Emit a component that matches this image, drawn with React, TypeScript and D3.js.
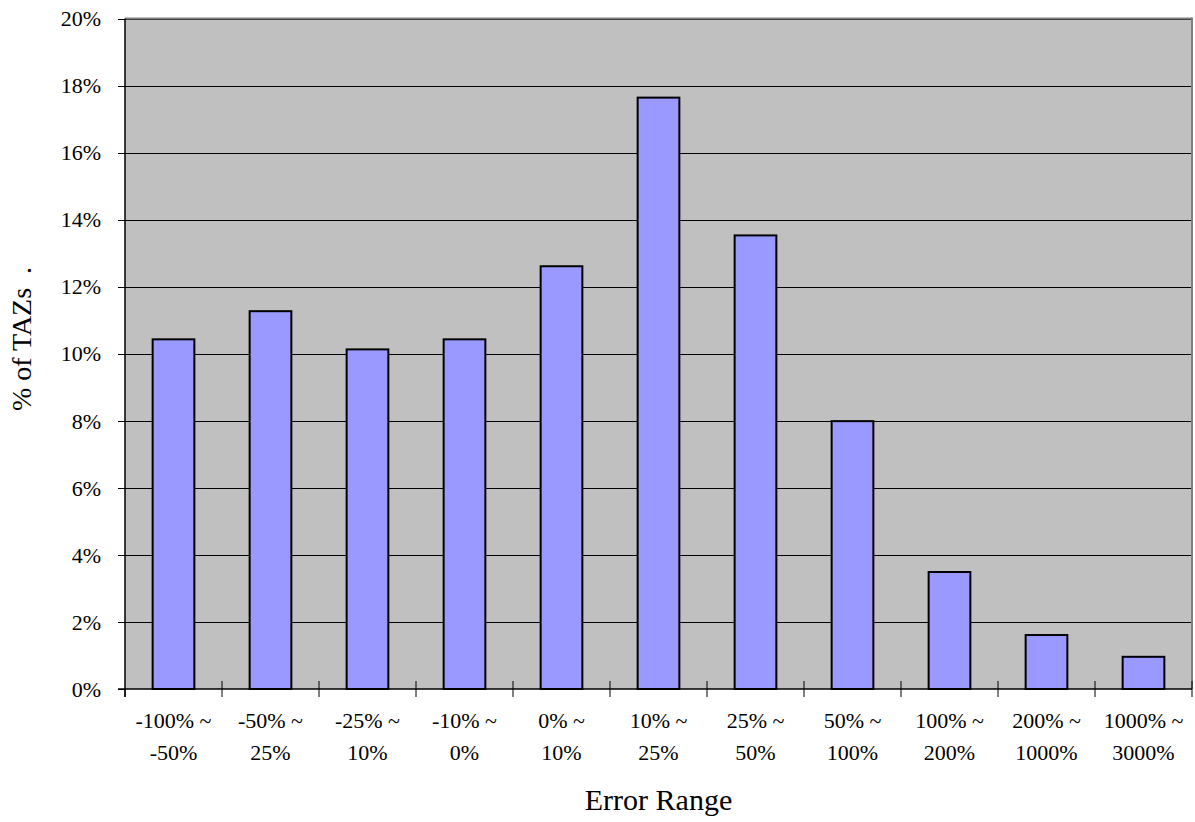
import React from "react";
import * as d3 from "d3";

const categoriesLine1 = ["-100% ~", "-50% ~", "-25% ~", "-10% ~", "0% ~", "10% ~", "25% ~", "50% ~", "100% ~", "200% ~", "1000% ~"];
const categoriesLine2 = ["-50%", "25%", "10%", "0%", "10%", "25%", "50%", "100%", "200%", "1000%", "3000%"];
const values = [10.43, 11.27, 10.13, 10.43, 12.61, 17.64, 13.53, 7.99, 3.49, 1.61, 0.96];
const yTicks = [0, 2, 4, 6, 8, 10, 12, 14, 16, 18, 20];

const W = 1195, H = 822;
const L = 125, R = 1192, T = 18.5, B = 689;
const FONT = "Liberation Serif, DejaVu Serif, serif";
const tickStyle: React.CSSProperties = { fontFamily: FONT, fontSize: "22px" };
const titleStyle: React.CSSProperties = { fontFamily: FONT, fontSize: "30px" };
const yTitleStyle: React.CSSProperties = { fontFamily: FONT, fontSize: "28px" };

export default function App() {
  const x = d3.scaleBand<number>().domain(d3.range(values.length)).range([L, R]).paddingInner(0).paddingOuter(0);
  const y = d3.scaleLinear().domain([0, 20]).range([B, T]);
  const bw = x.bandwidth() * 0.43;
  return (
    <svg width={W} height={H} style={{ position: "absolute", left: 0, top: 0, fontFamily: FONT }}>
      <rect x={L} y={T} width={R - L} height={B - T} fill="#c0c0c0" />
      {yTicks.slice(1).map((t) => (
        <line key={t} x1={L} x2={R} y1={Math.round(y(t)) + 0.5} y2={Math.round(y(t)) + 0.5} stroke="#000" strokeWidth={1} />
      ))}
      <line x1={L} x2={R} y1={T} y2={T} stroke="#808080" strokeWidth={2} />
      <line x1={R} x2={R} y1={T - 1} y2={B} stroke="#808080" strokeWidth={2} />
      {values.map((v, i) => {
        const cx = x(i)! + x.bandwidth() / 2;
        return (
          <rect key={i} x={cx - bw / 2} y={y(v)} width={bw} height={B - y(v)} fill="#9999ff" stroke="#000" strokeWidth={2} />
        );
      })}
      <line x1={L} x2={L} y1={T} y2={B + 8} stroke="#000" strokeWidth={1.5} />
      <line x1={L - 7} x2={R} y1={B} y2={B} stroke="#000" strokeWidth={1.5} />
      {yTicks.map((t) => (
        <g key={t}>
          <line x1={L - 7} x2={L} y1={Math.round(y(t)) + 0.5} y2={Math.round(y(t)) + 0.5} stroke="#000" strokeWidth={1} />
          <text x={L - 24} y={y(t)} dy="0.35em" textAnchor="end" style={tickStyle}>{t}%</text>
        </g>
      ))}
      {d3.range(values.length + 1).map((i) => {
        const xx = i < values.length ? x(i)! : R;
        return <line key={i} x1={xx} x2={xx} y1={i === 0 ? B : B - 8} y2={B + 8} stroke="#000" strokeWidth={1} />;
      })}
      {values.map((_, i) => {
        const cx = x(i)! + x.bandwidth() / 2;
        return (
          <g key={i}>
            <text x={cx} y={728} textAnchor="middle" style={tickStyle}>{categoriesLine1[i]}</text>
            <text x={cx} y={760} textAnchor="middle" style={tickStyle}>{categoriesLine2[i]}</text>
          </g>
        );
      })}
      <text x={(L + R) / 2} y={810} textAnchor="middle" style={titleStyle}>Error Range</text>
      <text transform={`translate(31, 339) rotate(-90)`} textAnchor="middle" style={yTitleStyle}>{"% of TAZs\u00a0\u00a0."}</text>
    </svg>
  );
}
